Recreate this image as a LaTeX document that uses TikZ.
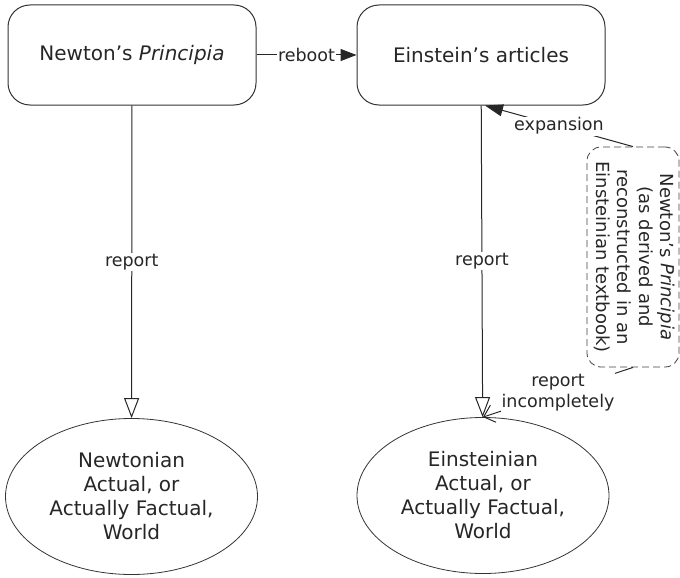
\documentclass[tikz,border=0pt]{standalone}
\usepackage{fontspec}
\setmainfont{DejaVu Sans}
\usetikzlibrary{arrows.meta,shapes.geometric}
\begin{document}
\begin{tikzpicture}[x=1pt,y=-1pt,
  every node/.style={text=black!85},
  box/.style={draw=black!80, line width=1pt, rounded corners=22pt,
    minimum width=248pt, minimum height=100pt, inner sep=0pt,
    font=\fontsize{20}{24}\selectfont},
  world/.style={ellipse, draw=black!80, line width=0.8pt,
    minimum width=252pt, minimum height=156pt, inner sep=0pt, align=center,
    font=\fontsize{20}{24}\selectfont},
  note/.style={draw=black!75, line width=0.8pt, dash pattern=on 7pt off 4pt,
    rounded corners=14pt, minimum width=92pt, minimum height=220pt,
    inner sep=0pt, font=\fontsize{18}{21.5}\selectfont},
  link/.style={draw=black!85, line width=1pt},
  lbl/.style={fill=white, inner sep=1pt, align=center,
    font=\fontsize{17.5}{21}\selectfont}
]
\useasboundingbox (0,0) rectangle (680,578);

% theories
\node[box] (np) at (132,55) {Newton’s \textit{Principia}};
\node[box] (ea) at (481,55) {Einstein’s articles};

% worlds
\node[world] (nw) at (131.5,496.5) {Newtonian\\Actual, or\\Actually Factual,\\World};
\node[world] (ew) at (483,495.5) {Einsteinian\\Actual, or\\Actually Factual,\\World};

% textbook note
\node[note] (tb) at (633,257) {\rotatebox{-90}{\begin{tabular}{@{}c@{}}
  Newton’s \textit{Principia}\\(as derived and\\reconstructed in an\\Einsteinian textbook)\end{tabular}}};

% connectors
\draw[link, -{Triangle[length=16pt,width=12pt]}] (np) -- node[lbl]{reboot} (ea);
\draw[link, -{Triangle[open,length=20pt,width=15pt]}] (np) -- node[lbl]{report} (nw);
\draw[link, -{Triangle[open,length=20pt,width=15pt]}] (ea) -- node[lbl]{report} (ew);
\draw[link, -{Triangle[length=18pt,width=12pt]}] (tb.north) -- node[lbl]{expansion} ([xshift=4pt]ea.south);
\draw[link, -{Straight Barb[length=10pt,width=18pt]}] (tb.south) -- node[lbl]{report\\incompletely} (ew.north);
\end{tikzpicture}
\end{document}
